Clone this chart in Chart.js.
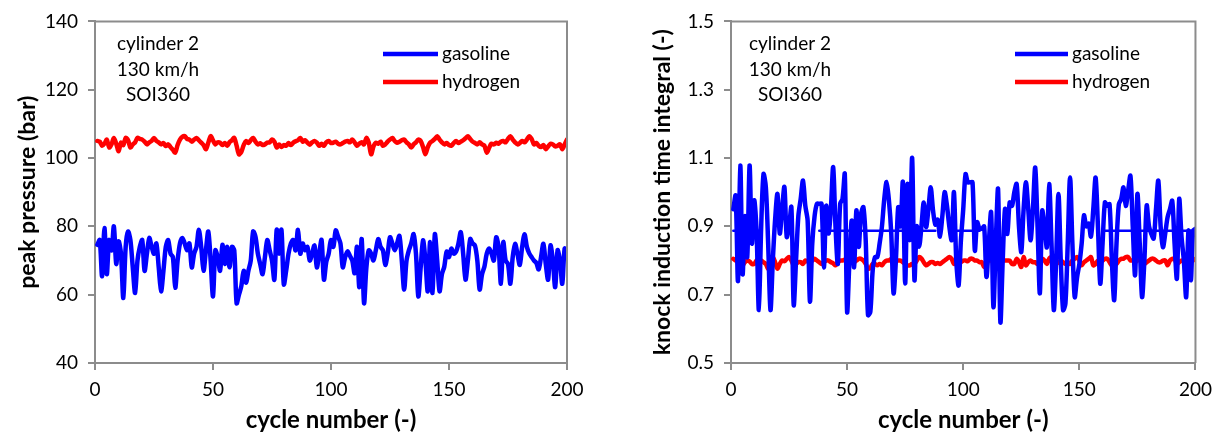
<!DOCTYPE html>
<html>
<head>
<meta charset="utf-8">
<script src="https://cdn.jsdelivr.net/npm/chart.js@4.4.1/dist/chart.umd.min.js"></script>
<style>
  html, body { margin: 0; padding: 0; background: #fff; }
  #wrap { position: relative; width: 1220px; height: 437px; }
  .c { position: absolute; top: 0; }
</style>
</head>
<body>
<div id="wrap">
  <div class="c" style="left:0px"><canvas id="left" width="610" height="437"></canvas></div>
  <div class="c" style="left:610px"><canvas id="right" width="610" height="437"></canvas></div>
</div>
<script>
// ---------- data ----------
const cycles = Array.from({length: 200}, (_, i) => i + 1);
const xTicks = [0, 50, 100, 150, 200];
const yTicksPressure = [40, 60, 80, 100, 120, 140];
const yTicksKnock = [0.5, 0.7, 0.9, 1.1, 1.3, 1.5];
const seriesLabels = ['gasoline', 'hydrogen'];
const annotationLines = ['cylinder 2', '130 km/h', 'SOI360'];
const xTitle = 'cycle number (-)';
const yTitlePressure = 'peak pressure (bar)';
const yTitleKnock = 'knock induction time integral (-)';

const pressureGasoline = [
 74.6,76.0,65.4,79.5,66.0,76.0,73.0,80.0,69.0,75.6, 72.0,59.0,74.0,78.5,76.0,68.0,60.5,70.0,74.0,76.0,
 67.0,72.0,76.6,74.0,72.0,75.0,68.0,61.0,67.0,74.0, 76.0,72.0,71.0,62.0,70.0,75.0,76.6,75.0,73.0,75.0,
 68.0,72.0,74.0,79.0,74.0,67.0,73.0,78.5,70.0,59.5, 73.0,71.0,67.0,74.6,69.0,74.0,68.0,74.0,73.0,57.5,
 60.0,62.5,67.0,63.5,67.0,70.0,78.5,77.0,72.0,69.0, 66.0,71.0,76.0,73.0,70.0,64.4,79.0,72.0,79.0,63.0,
 67.0,72.0,75.0,76.0,73.0,79.0,72.0,75.0,73.0,74.0, 70.0,72.0,74.4,68.0,72.0,76.0,64.4,69.6,72.0,76.0,
 74.0,78.8,77.0,75.0,68.0,71.0,72.7,71.4,70.0,66.3, 74.0,62.2,76.3,57.5,68.0,73.0,72.0,70.0,73.0,76.3,
 74.0,73.0,68.7,72.0,76.8,75.0,73.0,75.0,77.2,70.0, 61.5,70.0,73.0,75.0,77.7,72.0,59.5,68.0,75.9,70.0,
 61.0,75.4,60.5,77.7,70.0,61.0,66.0,68.2,72.6,71.0, 73.5,72.0,72.6,75.0,78.3,72.0,64.4,70.0,76.3,75.0,
 74.4,70.0,61.5,66.0,68.2,72.0,73.5,72.1,70.0,76.8, 74.0,63.2,75.4,70.0,69.0,63.2,71.0,74.9,72.0,68.7,
 74.0,77.7,74.0,72.1,71.0,70.0,69.3,67.4,71.0,74.9, 69.0,64.4,74.4,70.0,62.2,73.0,70.0,63.2,73.5,72.5
];
const pressureHydrogen = [
 105.0,104.8,103.6,104.2,105.4,103.1,104.0,105.9,104.2,102.0, 104.5,103.8,105.9,105.2,103.1,104.0,104.6,105.9,105.6,105.4,
 104.8,104.0,104.6,105.0,105.9,105.0,104.6,104.0,104.4,103.5, 104.0,103.2,102.4,101.6,103.8,105.4,106.2,106.4,105.6,105.4,
 104.8,105.4,105.9,105.2,104.5,103.8,102.6,104.5,106.4,105.2, 104.0,104.6,104.5,103.8,104.4,103.6,104.6,105.2,105.9,103.6,
 101.1,101.8,103.8,105.0,104.4,105.2,105.9,104.8,104.0,104.3, 103.8,104.0,104.5,104.6,105.4,104.8,103.1,104.0,103.2,103.8,
 103.6,104.4,103.8,104.5,104.9,105.2,105.9,104.8,105.2,104.5, 103.9,104.6,105.0,104.5,103.6,104.2,103.6,104.6,105.0,104.4,
 104.5,104.8,104.2,104.0,104.4,104.8,105.0,104.6,105.4,104.6, 103.6,104.2,104.6,104.0,105.9,104.5,101.1,103.4,104.5,104.2,
 104.8,103.6,104.0,104.8,105.4,105.9,105.0,104.5,104.8,105.2, 105.4,104.6,104.0,103.1,104.0,104.6,105.4,105.0,103.2,101.1,
 103.2,104.5,105.0,105.6,106.4,105.4,104.6,104.0,104.4,103.8, 103.6,104.4,105.0,104.4,104.8,105.2,105.8,106.4,105.6,104.8,
 104.4,104.0,104.6,104.0,103.6,101.6,103.0,104.2,104.0,104.5, 104.2,104.8,105.0,104.6,105.6,106.4,105.4,104.6,104.0,104.4,
 105.0,104.6,105.4,106.4,105.6,104.0,104.4,103.6,103.2,103.8, 102.6,103.4,104.2,104.0,103.4,103.6,104.0,102.6,104.0,105.4
];
const knockGasoline = [
 0.950,0.990,0.740,1.078,0.760,0.930,0.810,1.078,0.850,0.976, 0.888,0.655,0.900,1.053,1.015,0.850,0.655,0.800,0.920,0.995,
 0.879,0.950,1.015,0.869,0.900,0.956,0.670,0.800,0.930,0.980, 1.034,0.960,0.917,0.680,0.850,0.930,0.966,0.966,0.966,0.780,
 0.960,0.879,0.950,1.073,0.900,0.790,0.966,0.980,1.053,0.650, 0.800,0.917,0.780,0.947,0.840,0.937,0.956,0.860,0.640,0.650,
 0.770,0.810,0.810,0.850,0.900,0.980,1.030,0.976,0.880,0.704, 0.800,0.956,0.900,1.030,0.733,1.024,0.860,1.100,0.743,0.900,
 0.840,0.900,0.970,0.898,0.950,1.014,0.946,0.905,0.920,0.870, 0.930,1.000,0.960,0.900,0.860,1.000,0.800,0.727,0.859,0.950,
 1.053,1.029,1.029,1.029,0.829,0.912,0.893,0.893,0.900,0.752, 0.850,0.941,0.664,0.850,1.009,0.620,0.800,0.951,0.878,0.970,
 0.960,1.000,1.024,0.900,0.825,0.950,1.029,0.950,0.859,0.950, 1.072,0.900,0.704,0.946,0.900,0.839,1.024,0.850,0.655,0.800,
 0.995,0.800,0.655,0.674,0.850,1.043,0.850,0.693,0.750,0.790, 0.850,0.932,0.900,0.908,0.870,0.950,1.043,0.900,0.732,0.850,
 0.970,0.960,0.965,0.800,0.684,0.850,0.965,0.980,1.014,0.960, 1.004,1.048,0.900,0.757,0.995,0.850,0.693,0.800,0.961,0.900,
 0.878,0.864,0.950,1.034,0.900,0.839,0.880,0.927,0.950,0.975, 0.850,0.747,0.980,0.869,0.800,0.693,0.888,0.742,0.888,0.893
];
const knockHydrogen = [
 0.805,0.800,0.795,0.790,0.786,0.795,0.800,0.797,0.790,0.790, 0.800,0.805,0.800,0.795,0.790,0.776,0.795,0.810,0.795,0.776,
 0.790,0.800,0.798,0.805,0.810,0.800,0.786,0.790,0.795,0.795, 0.790,0.800,0.797,0.800,0.800,0.805,0.800,0.795,0.790,0.795,
 0.800,0.800,0.795,0.792,0.786,0.795,0.800,0.800,0.803,0.805, 0.800,0.798,0.795,0.800,0.805,0.805,0.800,0.790,0.776,0.778,
 0.790,0.790,0.786,0.790,0.786,0.795,0.800,0.800,0.805,0.805, 0.800,0.800,0.800,0.795,0.790,0.786,0.786,0.790,0.790,0.800,
 0.810,0.806,0.795,0.786,0.790,0.795,0.795,0.790,0.793,0.790, 0.795,0.800,0.805,0.810,0.805,0.790,0.795,0.795,0.795,0.800,
 0.800,0.798,0.805,0.805,0.800,0.800,0.795,0.795,0.781,0.790, 0.805,0.800,0.795,0.795,0.786,0.786,0.800,0.800,0.800,0.800,
 0.790,0.790,0.805,0.795,0.781,0.810,0.786,0.795,0.800,0.795, 0.795,0.790,0.800,0.805,0.800,0.790,0.805,0.810,0.790,0.790,
 0.795,0.800,0.795,0.790,0.795,0.790,0.800,0.805,0.810,0.800, 0.786,0.795,0.800,0.805,0.810,0.786,0.790,0.800,0.795,0.800,
 0.805,0.805,0.795,0.786,0.790,0.790,0.800,0.805,0.805,0.810, 0.810,0.800,0.800,0.795,0.800,0.810,0.800,0.790,0.795,0.800,
 0.805,0.805,0.800,0.795,0.795,0.800,0.800,0.786,0.800,0.805, 0.805,0.790,0.795,0.800,0.800,0.781,0.786,0.805,0.800,0.805
];
// flat gasoline trace segments seen in the knock chart
const knockGasolineFlatLevel = 0.887;
const knockGasolineFlatRanges = [[1, 13], [38, 88], [97, 107], [160, 200]];

// ---------- styling ----------
const BLUE = '#0000FF', RED = '#FF0000', AXIS = '#8c8c8c';
const FONT = 'Lato, "Open Sans", sans-serif';

function pts(ys) { return cycles.map((c, i) => ({x: c, y: ys[i]})); }
function flatPts(level, ranges) {
  const out = [];
  ranges.forEach(([a, b]) => { out.push({x: a, y: level}, {x: b, y: level}, {x: b + 0.5, y: null}); });
  return out;
}

const framePlugin = {
  id: 'frame',
  afterDraw(chart) {
    const {ctx, chartArea: a} = chart;
    ctx.save();
    ctx.strokeStyle = AXIS; ctx.lineWidth = 2;
    ctx.beginPath();
    ctx.moveTo(a.left, a.top); ctx.lineTo(a.right, a.top); ctx.lineTo(a.right, a.bottom);
    ctx.stroke();
    ctx.restore();
  }
};

const overlayPlugin = {
  id: 'overlay',
  afterDraw(chart, args, o) {
    const {ctx} = chart;
    ctx.save();
    ctx.fillStyle = '#000';
    ctx.font = '19px ' + FONT;
    ctx.textAlign = 'center'; ctx.textBaseline = 'middle';
    o.lines.forEach((t, i) => ctx.fillText(t, o.annX, o.annY[i]));
    // legend
    ctx.textAlign = 'left';
    const items = chart.data.datasets.filter(d => !d.hidden && d.legend !== false);
    items.forEach((d, i) => {
      const y = o.legY[i];
      ctx.strokeStyle = d.borderColor; ctx.lineWidth = 4.5;
      ctx.beginPath(); ctx.moveTo(o.legX, y); ctx.lineTo(o.legX + o.legLen, y); ctx.stroke();
      ctx.fillText(d.label, o.legX + o.legLen + 4, y);
    });
    ctx.restore();
  }
};

function makeChart(id, opt) {
  const datasets = [
    {label: seriesLabels[0], data: pts(opt.gas), borderColor: BLUE, borderWidth: 4.5},
    {label: seriesLabels[1], data: pts(opt.h2), borderColor: RED, borderWidth: 4.5}
  ];
  if (opt.flat) datasets.splice(1, 0, {label: seriesLabels[0], data: opt.flat, borderColor: BLUE, borderWidth: 2.5, legend: false, spanGaps: false, tension: 0});
  return new Chart(document.getElementById(id), {
    type: 'line',
    data: {datasets},
    options: {
      responsive: false, animation: false,
      layout: {padding: {left: 0, right: opt.padRight, top: 20, bottom: 0}},
      elements: {point: {radius: 0}, line: {tension: 0.3, borderCapStyle: 'round', borderJoinStyle: 'round'}},
      plugins: {
        legend: {display: false}, tooltip: {enabled: false},
        overlay: {lines: annotationLines, annX: opt.annX, annY: [44, 70, 95], legX: opt.legX, legLen: opt.legLen, legY: [54, 82]}
      },
      scales: {
        x: {
          type: 'linear', min: 0, max: 200,
          afterBuildTicks: s => { s.ticks = xTicks.map(v => ({value: v})); },
          afterFit: s => { s.height = 74; },
          ticks: {color: '#000', font: {family: FONT, size: 19}, padding: 8, maxRotation: 0},
          grid: {drawOnChartArea: false, drawTicks: true, tickLength: 7, color: AXIS, lineWidth: 2},
          border: {color: AXIS, width: 2},
          title: {display: true, text: xTitle, color: '#000', font: {family: FONT, size: 24, weight: 'bold', lineHeight: 1.2}, padding: {top: 0, bottom: 2}}
        },
        y: {
          min: opt.yMin, max: opt.yMax,
          afterBuildTicks: s => { s.ticks = opt.yTicks.map(v => ({value: v})); },
          afterFit: s => { s.width = opt.yWidth; },
          ticks: {color: '#000', font: {family: FONT, size: 19}, padding: 10, callback: opt.fmt},
          grid: {drawOnChartArea: false, drawTicks: true, tickLength: 7, color: AXIS, lineWidth: 2},
          border: {color: AXIS, width: 2},
          title: {display: true, text: opt.yTitle, color: '#000', font: {family: FONT, size: 23, weight: 'bold', lineHeight: 1.2}, padding: {top: opt.yTitlePad, bottom: 0}}
        }
      }
    },
    plugins: [framePlugin, overlayPlugin]
  });
}

makeChart('left', {
  gas: pressureGasoline, h2: pressureHydrogen,
  yMin: 40, yMax: 140, yTicks: yTicksPressure, fmt: v => String(v),
  yTitle: yTitlePressure, yWidth: 95, padRight: 43, yTitlePad: 14,
  annX: 158, legX: 383, legLen: 55
});
makeChart('right', {
  gas: knockGasoline, h2: knockHydrogen, flat: flatPts(knockGasolineFlatLevel, knockGasolineFlatRanges),
  yMin: 0.5, yMax: 1.5, yTicks: yTicksKnock, fmt: v => Number(v).toFixed(1),
  yTitle: yTitleKnock, yWidth: 121, padRight: 20, yTitlePad: 39,
  annX: 180, legX: 405, legLen: 53
});
</script>
</body>
</html>
